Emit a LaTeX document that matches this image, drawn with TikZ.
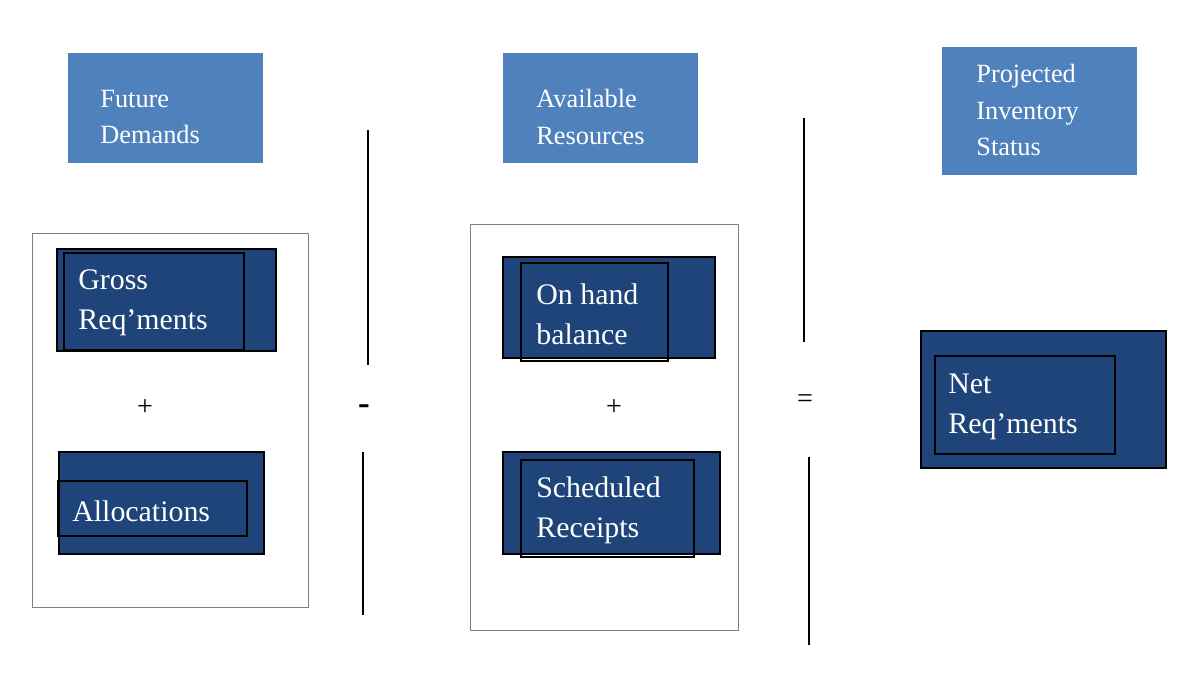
\documentclass[tikz,border=0pt]{standalone}
\usepackage{fontspec}
\setmainfont{Liberation Serif}
\begin{document}
\begin{tikzpicture}[x=0.02cm,y=-0.02cm,
  light/.style={fill=lb,draw=none},
  dark/.style={fill=db,draw=black,line width=0.8pt},
  inner/.style={draw=black,line width=0.6pt},
  lt/.style={text=white,anchor=west,align=left,inner sep=0pt,font=\fontsize{15}{21}\selectfont},
  dt/.style={text=white,anchor=west,align=left,inner sep=0pt,font=\fontsize{17}{22.7}\selectfont},
  sym/.style={font=\fontsize{16}{18}\selectfont,inner sep=0pt},
  vline/.style={line width=0.8pt}]
\definecolor{lb}{HTML}{4F81BD}
\definecolor{db}{HTML}{1F4479}
\useasboundingbox (0,0) rectangle (1194,679);
% light headers
\fill[light] (68,53) rectangle (263,163);
\node[lt] (fd) at (100,117) {Future\\Demands};
\fill[light] (503,53) rectangle (698,163);
\node[lt] (ar) at (536,117) {Available\\Resources};
\fill[light] (942,47) rectangle (1137,175);
\node[lt] (pi) at (976,110) {Projected\\Inventory\\Status};
% containers
\draw[gray,line width=0.5pt] (32,233) rectangle (308,607);
\draw[gray,line width=0.5pt] (470,224) rectangle (738,630);
% gross
\draw[dark] (57,249) rectangle (276,351);
\draw[inner] (64,253) rectangle (244,350);
\node[dt] (gr) at (78,303) {Gross\\Req’ments};
\node[sym] (p1) at (145,408) {+};
\draw[dark] (59,452) rectangle (264,554);
\draw[inner] (58,481) rectangle (247,536);
\node[dt] (al) at (72,511) {Allocations};
% minus
\draw[vline] (368,130) -- (368,365);
\node[sym,font=\fontsize{20}{22}\selectfont\bfseries] (mi) at (364,410) {-};
\draw[vline] (363,452) -- (363,615);
% middle
\draw[dark] (503,257) rectangle (715,358);
\draw[inner] (521,263) rectangle (668,361);
\node[dt] (oh) at (536,314) {On hand\\balance};
\node[sym] (p2) at (614,408) {+};
\draw[dark] (503,452) rectangle (720,554);
\draw[inner] (521,460) rectangle (694,557);
\node[dt] (sr) at (536,510) {Scheduled\\Receipts};
% equals
\draw[vline] (804,118) -- (804,342);
\node[sym] (eq) at (805,401) {=};
\draw[vline] (809,457) -- (809,645);
% net
\draw[dark] (921,331) rectangle (1166,468);
\draw[inner] (935,356) rectangle (1115,454);
\node[dt] (nr) at (948,407) {Net\\Req’ments};
\end{tikzpicture}
\end{document}
